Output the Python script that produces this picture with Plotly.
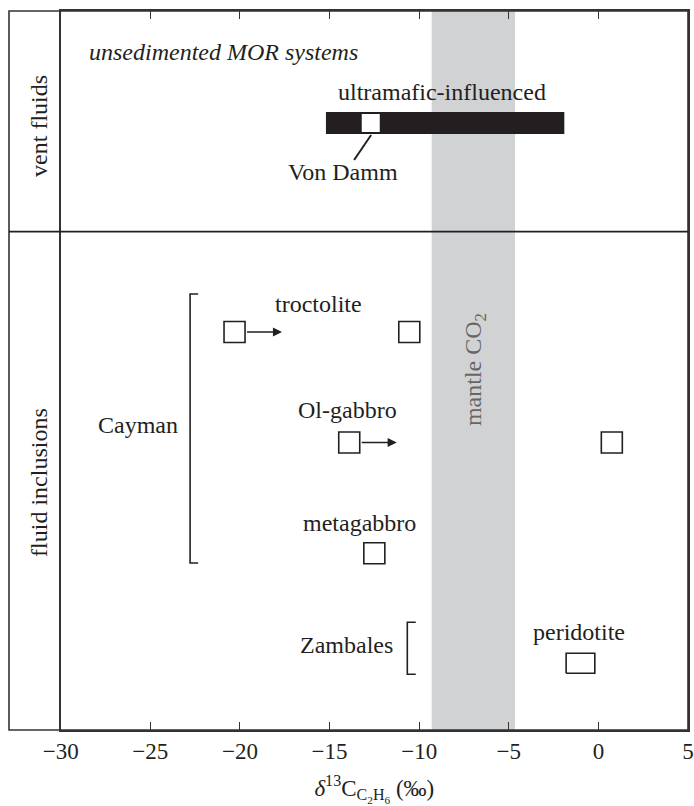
import plotly.graph_objects as go

# ---------------- data ----------------
x_tick_values = [-30, -25, -20, -15, -10, -5, 0, 5]
mantle_co2_range = [-9.3, -4.65]
ultramafic_range = [-15.2, -1.9]
von_damm_value = [-12.7]
troctolite_values = [-20.3, -10.55]
troctolite_arrow_to = -17.65
ol_gabbro_values = [-13.9, 0.75]
ol_gabbro_arrow_to = -11.25
metagabbro_values = [-12.5]
peridotite_range = [-1.8, -0.2]

# ---------------- layout helpers (vertical positions, px from bottom) ----------------
INK = "#231f20"
FONT = "Liberation Serif"
FS = 24
row = dict(mor=678, ultra_txt=638, bar=607, vd_txt=558, divider=498.3,
           troc_txt=426, troc=398, ol_txt=320, ol=287.5, meta_txt=207.3, meta=176.7,
           zamb=85, perid_txt=98, perid=66.7)

fig = go.Figure()

# mantle CO2 band
fig.add_shape(type="rect", xref="x", yref="paper", x0=mantle_co2_range[0], x1=mantle_co2_range[1],
              y0=0, y1=1, fillcolor="#d1d2d4", line_width=0, layer="below")
# ultramafic-influenced bar
fig.add_shape(type="rect", xref="x", yref="y", x0=ultramafic_range[0], x1=ultramafic_range[1],
              y0=row["bar"] - 11, y1=row["bar"] + 11, fillcolor=INK, line_width=0, layer="below")

# Von Damm square
fig.add_trace(go.Scatter(x=von_damm_value, y=[row["bar"]], mode="markers",
                         marker=dict(symbol="square", size=18, color="white", line=dict(width=0)),
                         hoverinfo="skip"))
# squares for inclusions
sq = dict(symbol="square", size=21, color="white", line=dict(width=1.6, color=INK))
fig.add_trace(go.Scatter(x=troctolite_values, y=[row["troc"]] * len(troctolite_values), mode="markers",
                         marker=sq, hoverinfo="skip"))
fig.add_trace(go.Scatter(x=ol_gabbro_values, y=[row["ol"]] * len(ol_gabbro_values), mode="markers",
                         marker=sq, hoverinfo="skip"))
fig.add_trace(go.Scatter(x=metagabbro_values, y=[row["meta"]] * len(metagabbro_values), mode="markers",
                         marker=sq, hoverinfo="skip"))
# peridotite (wider box = range)
p0, p1 = peridotite_range
fig.add_trace(go.Scatter(x=[p0, p1, p1, p0, p0],
                         y=[row["perid"] - 10, row["perid"] - 10, row["perid"] + 10, row["perid"] + 10, row["perid"] - 10],
                         mode="lines", fill="toself", fillcolor="white",
                         line=dict(width=1.6, color=INK), hoverinfo="skip"))

# arrows
for x0, xt, yy in [(troctolite_values[0], troctolite_arrow_to, row["troc"]),
                   (ol_gabbro_values[0], ol_gabbro_arrow_to, row["ol"])]:
    fig.add_annotation(x=xt, y=yy, ax=x0, ay=yy, xref="x", yref="y", axref="x", ayref="y",
                       text="", showarrow=True, arrowhead=2, arrowsize=1.3, arrowwidth=1.4,
                       arrowcolor=INK, startstandoff=11)

# Von Damm leader line
fig.add_shape(type="line", xref="x", yref="y", x0=von_damm_value[0] + 0.02, y0=row["bar"] - 12,
              x1=von_damm_value[0] - 0.93, y1=row["bar"] - 37, line=dict(color=INK, width=2))

# brackets
def bracket(xv, xs, ytop, ybot):
    fig.add_shape(type="path", xref="x", yref="y",
                  path=f"M {xs} {ytop} L {xv} {ytop} L {xv} {ybot} L {xs} {ybot}",
                  line=dict(color=INK, width=1.6))

bracket(-22.78, -22.33, 436, 167)
bracket(-10.66, -10.19, 107.7, 55.7)

# frame and dividers
fig.add_shape(type="rect", xref="paper", yref="paper", x0=0, x1=1, y0=0, y1=1,
              line=dict(color="#333", width=1.6))
fig.add_shape(type="line", xref="paper", yref="y", x0=0, x1=1, y0=row["divider"], y1=row["divider"],
              line=dict(color=INK, width=1.8))

# text labels
def label(x, y, text, size=FS, color=INK, angle=0, xref="x", italic=False):
    fig.add_annotation(x=x, y=y, xref=xref, yref="y", text=f"<i>{text}</i>" if italic else text,
                       showarrow=False, textangle=angle, xanchor="center", yanchor="middle",
                       font=dict(family=FONT, size=size, color=color))

label(-20.9, row["mor"], "unsedimented MOR systems", italic=True)
label(-8.7, row["ultra_txt"], "ultramafic-influenced")
label(-14.25, row["vd_txt"], "Von Damm")
label(-15.63, row["troc_txt"], "troctolite")
label(-14.02, row["ol_txt"], "Ol-gabbro")
label(-13.33, row["meta_txt"], "metagabbro")
label(-25.69, 305, "Cayman")
label(-14.08, row["zamb"], "Zambales")
label(-1.07, row["perid_txt"], "peridotite")
label(-6.88, 360, "mantle CO<sub>2</sub>", color="#666", angle=-90)
label(0.044, 604, "vent fluids", angle=-90, xref="paper")
label(0.044, 248, "fluid inclusions", angle=-90, xref="paper")

fig.update_layout(
    width=694, height=806,
    margin=dict(l=9, r=6, t=11, b=76, autoexpand=False),
    paper_bgcolor="white", plot_bgcolor="white",
    showlegend=False,
    font=dict(family=FONT, color=INK, size=FS),
    xaxis=dict(domain=[0.0761, 1], range=[-30, 5], tickvals=x_tick_values,
               ticks="inside", ticklen=8, tickwidth=1.4, tickcolor="#333",
               showline=True, linecolor="#333", linewidth=1.6, mirror="ticks",
               showgrid=False, zeroline=False, automargin=False,
               tickfont=dict(family=FONT, size=23, color=INK),
               title=dict(text="<i>δ</i><sup>13</sup>C<sub>C<sub>2</sub>H<sub>6</sub></sub> (‰)",
                          font=dict(family=FONT, size=23, color=INK), standoff=16)),
    yaxis=dict(range=[0, 719], showticklabels=False, ticks="", showgrid=False, zeroline=False,
               showline=True, linecolor="#333", linewidth=1.8, mirror=True, automargin=False),
)

fig.write_html("out.html")
